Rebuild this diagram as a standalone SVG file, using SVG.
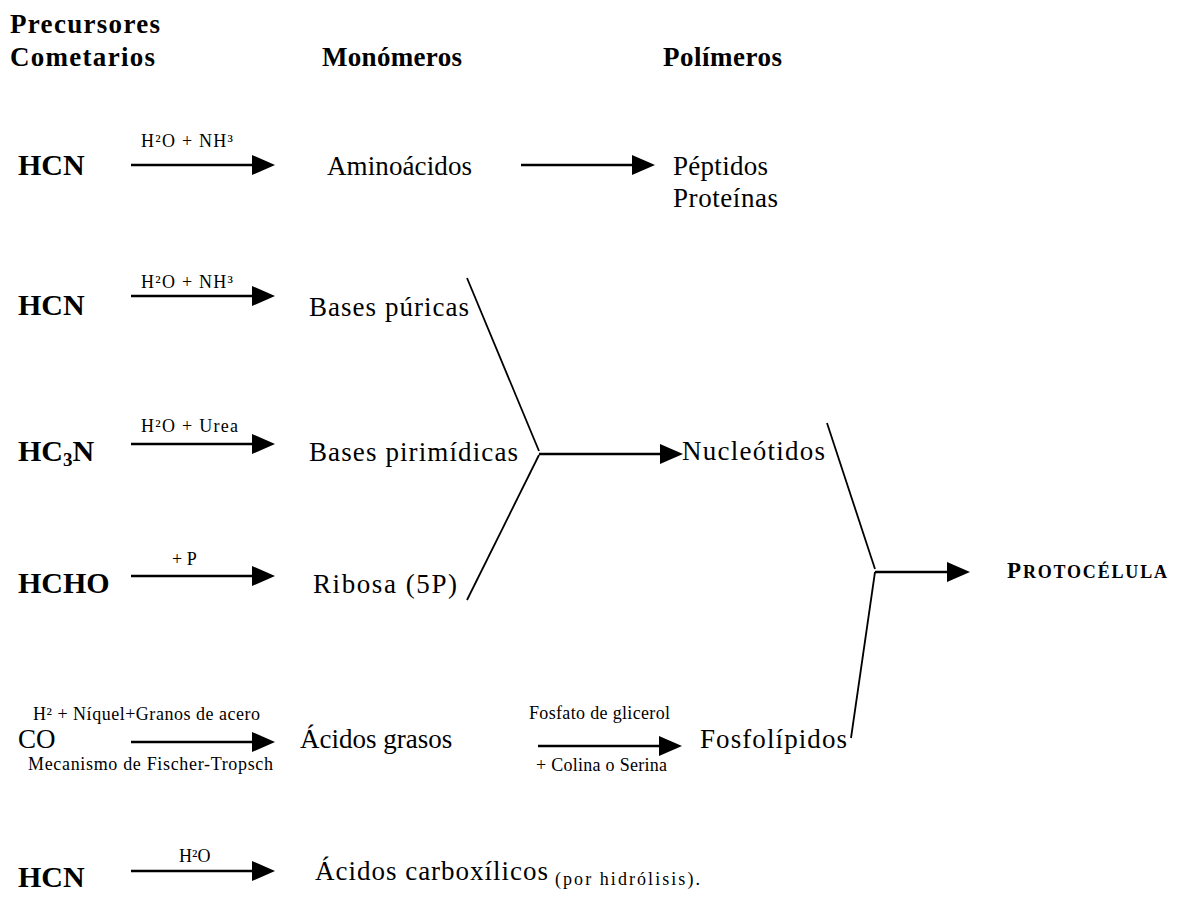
<svg xmlns="http://www.w3.org/2000/svg" width="1177" height="901" viewBox="0 0 1177 901">
  <style>
    text { font-family: "Liberation Serif", "Times New Roman", serif; fill: #000; }
    .hd { font-size: 27px; font-weight: bold; }
    .pre { font-size: 30px; font-weight: bold; }
    .mol { font-size: 27px; }
    .lbl { font-size: 18px; }
    .arrow { stroke: #000; stroke-width: 2.5; fill: none; marker-end: url(#head); }
    .fork { stroke: #000; stroke-width: 1.8; fill: none; }
  </style>
  <defs>
    <marker id="head" viewBox="0 0 23 20" refX="0" refY="10" markerWidth="23" markerHeight="20" markerUnits="userSpaceOnUse" orient="auto">
      <path d="M0,0 L23,10 L0,20 z" fill="#000"/>
    </marker>
  </defs>

  <!-- column headings -->
  <g id="headings">
    <text class="hd" x="10" y="33" textLength="150">Precursores</text>
    <text class="hd" x="10" y="66" textLength="145">Cometarios</text>
    <text class="hd" x="322" y="66" textLength="140">Monómeros</text>
    <text class="hd" x="663" y="66" textLength="119">Polímeros</text>
  </g>

  <!-- precursors -->
  <g id="hcn-1"><text class="pre" x="18" y="175">HCN</text></g>
  <g id="hcn-2"><text class="pre" x="18" y="315">HCN</text></g>
  <g id="hc3n"><text class="pre" x="18" y="461">HC<tspan font-size="19" dy="5">3</tspan><tspan dy="-5">N</tspan></text></g>
  <g id="hcho"><text class="pre" x="18" y="593">HCHO</text></g>
  <g id="co"><text class="mol" x="18" y="748" font-size="30">CO</text></g>
  <g id="hcn-3"><text class="pre" x="18" y="887">HCN</text></g>

  <!-- monomers -->
  <g id="aminoacidos"><text class="mol" x="327" y="175" textLength="145">Aminoácidos</text></g>
  <g id="bases-puricas"><text class="mol" x="309" y="316" textLength="160">Bases púricas</text></g>
  <g id="bases-pirimidicas"><text class="mol" x="309" y="461" textLength="209">Bases pirimídicas</text></g>
  <g id="ribosa"><text class="mol" x="313" y="593" textLength="144">Ribosa (5P)</text></g>
  <g id="acidos-grasos"><text class="mol" x="300" y="748" font-size="26">Ácidos grasos</text></g>
  <g id="acidos-carboxilicos">
    <text class="mol" x="315" y="880" textLength="233">Ácidos carboxílicos</text>
    <text x="555" y="885" font-size="18" textLength="145">(por hidrólisis).</text>
  </g>

  <!-- polymers -->
  <g id="peptidos">
    <text class="mol" x="673" y="175" textLength="95">Péptidos</text>
    <text class="mol" x="673" y="207" textLength="105">Proteínas</text>
  </g>
  <g id="nucleotidos"><text class="mol" x="682" y="460" textLength="143">Nucleótidos</text></g>
  <g id="fosfolipidos"><text class="mol" x="700" y="748" textLength="147">Fosfolípidos</text></g>

  <g id="protocelula">
    <text x="1007" y="578" font-weight="bold" textLength="160"><tspan font-size="23">P</tspan><tspan font-size="18">ROTOCÉLULA</tspan></text>
  </g>

  <!-- reaction labels -->
  <g id="labels">
    <text class="lbl" x="141" y="147" textLength="92">H²O + NH³</text>
    <text class="lbl" x="141" y="288" textLength="92">H²O + NH³</text>
    <text class="lbl" x="141" y="432" textLength="97">H²O + Urea</text>
    <text class="lbl" x="172" y="565">+ P</text>
    <text class="lbl" x="33" y="720" textLength="227">H² + Níquel+Granos de acero</text>
    <text class="lbl" x="28" y="770" textLength="245">Mecanismo de Fischer-Tropsch</text>
    <text class="lbl" x="529" y="719" textLength="141">Fosfato de glicerol</text>
    <text class="lbl" x="536" y="771" textLength="131">+ Colina o Serina</text>
    <text class="lbl" x="179" y="862" font-size="19">H²O</text>
  </g>

  <!-- connectors -->
  <g id="connectors">
    <line class="arrow" x1="131" y1="165" x2="252" y2="165"/>
    <line class="arrow" x1="521" y1="165" x2="632" y2="165"/>
    <line class="arrow" x1="131" y1="296" x2="252" y2="296"/>
    <line class="arrow" x1="131" y1="444" x2="252" y2="444"/>
    <line class="arrow" x1="131" y1="576" x2="252" y2="576"/>
    <line class="arrow" x1="131" y1="742" x2="252" y2="742"/>
    <line class="arrow" x1="538" y1="746" x2="659" y2="746"/>
    <line class="arrow" x1="131" y1="871" x2="252" y2="871"/>

    <!-- nucleotide fork -->
    <polyline class="fork" points="467,278 539,451"/>
    <polyline class="fork" points="539,455 467,600"/>
    <line class="arrow" x1="539" y1="454" x2="660" y2="454"/>

    <!-- protocell fork -->
    <polyline class="fork" points="827,423 875,569"/>
    <polyline class="fork" points="875,572 851,738"/>
    <line class="arrow" x1="875" y1="572" x2="947" y2="572"/>
  </g>
</svg>
